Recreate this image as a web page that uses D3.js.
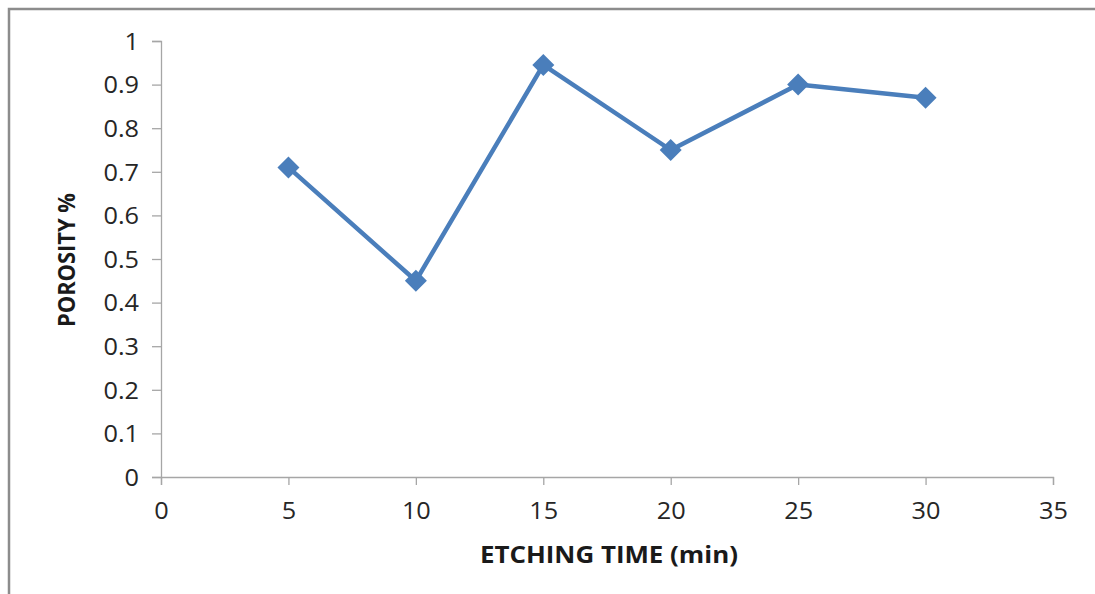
<!DOCTYPE html>
<html>
<head>
<meta charset="utf-8">
<script src="https://cdn.jsdelivr.net/npm/d3@7"></script>
<style>
  html, body { margin: 0; padding: 0; background: #fff; }
  svg { display: block; font-family: "Open Sans", sans-serif; }
</style>
</head>
<body>
<svg id="chart" width="1095" height="594"></svg>
<script>
// Porosity measured at each etching time
const etchingTime = [5, 10, 15, 20, 25, 30];
const porosity = [0.71, 0.45, 0.945, 0.75, 0.90, 0.87];
const xTicks = [0, 5, 10, 15, 20, 25, 30, 35];
const yTicks = [0, 0.1, 0.2, 0.3, 0.4, 0.5, 0.6, 0.7, 0.8, 0.9, 1];

const svg = d3.select("#chart");
const axisColor = "#a6a6a6";
const seriesColor = "#4a7ebb";
const font = "'Open Sans', sans-serif";

// outer frame (top and left edges)
svg.append("path")
  .attr("d", "M9,594 V9 H1095")
  .attr("fill", "none")
  .attr("stroke", "#8c8c8c")
  .attr("stroke-width", 2.5);

const x = d3.scaleLinear().domain([0, 35]).range([161, 1053]);
const y = d3.scaleLinear().domain([0, 1]).range([477, 41]);

const fmtY = d => d === 0 || d === 1 ? String(d) : d.toFixed(1);

const yAxis = svg.append("g")
  .attr("transform", `translate(${x(0)},0)`)
  .call(d3.axisLeft(y).tickValues(yTicks).tickFormat(fmtY).tickSize(9).tickPadding(11));

const xAxis = svg.append("g")
  .attr("transform", `translate(0,${y(0)})`)
  .call(d3.axisBottom(x).tickValues(xTicks).tickFormat(d3.format("d")).tickSize(8).tickPadding(14));

[yAxis, xAxis].forEach(g => {
  g.select(".domain").attr("stroke", axisColor).attr("stroke-width", 1.3);
  g.selectAll(".tick line").attr("stroke", axisColor).attr("stroke-width", 1.3);
  g.selectAll(".tick text")
    .attr("fill", "#262626")
    .attr("font-size", 23)
    .attr("font-family", font)
    .attr("transform", "scale(1.1,1)");
});
yAxis.selectAll(".tick text").attr("dy", "0.36em");
xAxis.selectAll(".tick text").attr("dy", "0.85em");

// series line
const pts = etchingTime.map((t, i) => [t, porosity[i]]);
svg.append("path")
  .datum(pts)
  .attr("fill", "none")
  .attr("stroke", seriesColor)
  .attr("stroke-width", 4.5)
  .attr("stroke-linejoin", "round")
  .attr("d", d3.line().x(d => x(d[0])).y(d => y(d[1])));

// diamond markers
svg.append("g").selectAll("path")
  .data(pts)
  .join("path")
  .attr("transform", d => `translate(${x(d[0])},${y(d[1])})`)
  .attr("d", "M0,-11 L11,0 L0,11 L-11,0 Z")
  .attr("fill", seriesColor);

// axis titles
svg.append("text")
  .attr("x", 609)
  .attr("y", 563)
  .attr("text-anchor", "middle")
  .attr("font-size", 24)
  .attr("font-weight", "bold")
  .attr("font-family", font)
  .attr("fill", "#1a1a1a")
  .attr("textLength", 258)
  .attr("lengthAdjust", "spacingAndGlyphs")
  .text("ETCHING TIME (min)");

svg.append("text")
  .attr("transform", "translate(75,260) rotate(-90)")
  .attr("text-anchor", "middle")
  .attr("font-size", 23)
  .attr("font-weight", "bold")
  .attr("font-family", font)
  .attr("fill", "#1a1a1a")
  .attr("textLength", 134)
  .attr("lengthAdjust", "spacingAndGlyphs")
  .text("POROSITY %");
</script>
</body>
</html>
